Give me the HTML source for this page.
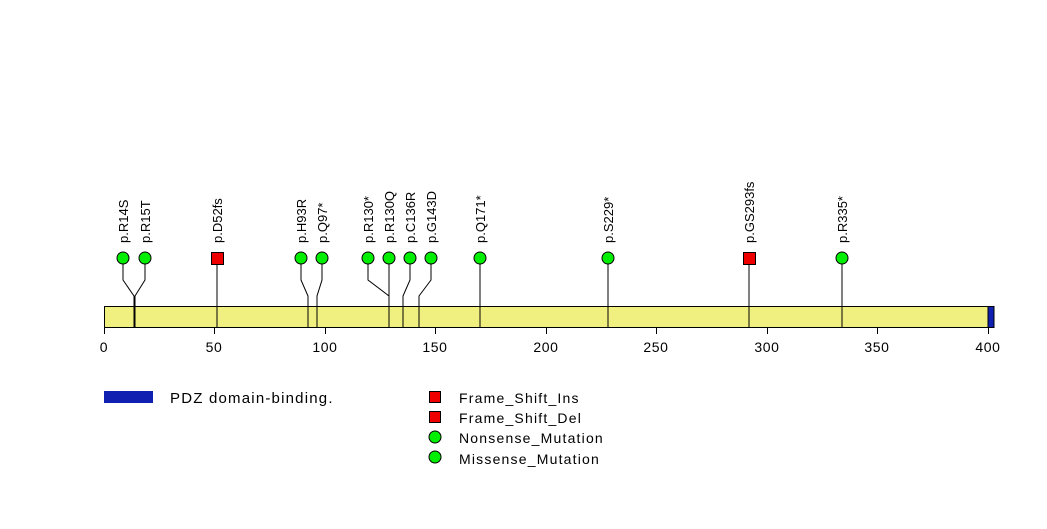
<!DOCTYPE html>
<html><head><meta charset="utf-8"><style>
html,body{margin:0;padding:0;background:#fff}
svg text{font-family:"Liberation Sans",sans-serif;font-size:14px;fill:#000}
.lg{font-size:15px;letter-spacing:1.2px}
.lb{letter-spacing:0.6px}
.rl text{font-size:13px}
</style></head><body>
<svg width="1047" height="524" xmlns="http://www.w3.org/2000/svg">
<g stroke="#000" stroke-width="1" fill="none">
<polyline points="123,264 123,280 134,296 134,306"/>
<polyline points="145,264 145,280 135,296 135,306"/>
<polyline points="217,264 217,306"/>
<polyline points="301,264 301,280 308,296 308,306"/>
<polyline points="322,264 322,280 317,296 317,306"/>
<polyline points="368,264 368,280 389,296 389,306"/>
<polyline points="389,264 389,306"/>
<polyline points="410,264 410,280 403,296 403,306"/>
<polyline points="431,264 431,280 419,296 419,306"/>
<polyline points="480,264 480,306"/>
<polyline points="608,264 608,306"/>
<polyline points="749,264 749,306"/>
<polyline points="842,264 842,306"/>
</g>
<rect x="104.5" y="306.5" width="889" height="21" fill="#f0f080" stroke="#000"/>
<rect x="988" y="306.5" width="6" height="21" fill="#1020b0" stroke="#000"/>
<g stroke="#000" fill="none">
<line x1="134" y1="306" x2="134" y2="327"/><line x1="135" y1="306" x2="135" y2="327"/>
<line x1="217" y1="306" x2="217" y2="327"/><line x1="308" y1="306" x2="308" y2="327"/>
<line x1="317" y1="306" x2="317" y2="327"/><line x1="389" y1="306" x2="389" y2="327"/>
<line x1="403" y1="306" x2="403" y2="327"/><line x1="419" y1="306" x2="419" y2="327"/>
<line x1="480" y1="306" x2="480" y2="327"/><line x1="608" y1="306" x2="608" y2="327"/>
<line x1="749" y1="306" x2="749" y2="327"/><line x1="842" y1="306" x2="842" y2="327"/>
</g>
<g stroke="#000">
<line x1="104.5" y1="327" x2="104.5" y2="334"/><line x1="214.5" y1="327" x2="214.5" y2="334"/>
<line x1="325.5" y1="327" x2="325.5" y2="334"/><line x1="435.5" y1="327" x2="435.5" y2="334"/>
<line x1="546.5" y1="327" x2="546.5" y2="334"/><line x1="656.5" y1="327" x2="656.5" y2="334"/>
<line x1="767.5" y1="327" x2="767.5" y2="334"/><line x1="877.5" y1="327" x2="877.5" y2="334"/>
<line x1="988.5" y1="327" x2="988.5" y2="334"/>
</g>
<g text-anchor="middle" class="lb">
<text x="104" y="352">0</text><text x="214" y="352">50</text><text x="325" y="352">100</text>
<text x="435" y="352">150</text><text x="546" y="352">200</text><text x="656" y="352">250</text>
<text x="767" y="352">300</text><text x="877" y="352">350</text><text x="988" y="352">400</text>
</g>
<g fill="#00ee00" stroke="#000">
<circle cx="123" cy="258" r="6"/><circle cx="145" cy="258" r="6"/>
<circle cx="301" cy="258" r="6"/><circle cx="322" cy="258" r="6"/>
<circle cx="368" cy="258" r="6"/><circle cx="389" cy="258" r="6"/>
<circle cx="410" cy="258" r="6"/><circle cx="431" cy="258" r="6"/>
<circle cx="480" cy="258" r="6"/><circle cx="608" cy="258" r="6"/>
<circle cx="842" cy="258" r="6"/>
</g>
<g fill="#ee0000" stroke="#000">
<rect x="211.5" y="252.5" width="12" height="12"/>
<rect x="743.5" y="252.5" width="12" height="12"/>
</g>
<g class="rl">
<text transform="translate(128,243) rotate(-90)">p.R14S</text>
<text transform="translate(150,243) rotate(-90)">p.R15T</text>
<text transform="translate(222,243) rotate(-90)">p.D52fs</text>
<text transform="translate(306,243) rotate(-90)">p.H93R</text>
<text transform="translate(327,243) rotate(-90)">p.Q97*</text>
<text transform="translate(373,243) rotate(-90)">p.R130*</text>
<text transform="translate(394,243) rotate(-90)">p.R130Q</text>
<text transform="translate(415,243) rotate(-90)">p.C136R</text>
<text transform="translate(436,243) rotate(-90)">p.G143D</text>
<text transform="translate(485,243) rotate(-90)">p.Q171*</text>
<text transform="translate(613,243) rotate(-90)">p.S229*</text>
<text transform="translate(754,243) rotate(-90)">p.GS293fs</text>
<text transform="translate(847,243) rotate(-90)">p.R335*</text>
</g>
<rect x="104" y="391" width="49" height="12" fill="#1020b0"/>
<text x="170" y="403" class="lg">PDZ domain-binding.</text>
<rect x="429.5" y="391.5" width="11" height="11" fill="#ee0000" stroke="#000"/>
<rect x="429.5" y="411.5" width="11" height="11" fill="#ee0000" stroke="#000"/>
<circle cx="435" cy="437" r="6" fill="#00ee00" stroke="#000"/>
<circle cx="435" cy="457" r="6" fill="#00ee00" stroke="#000"/>
<g class="lg">
<text x="459" y="403">Frame_Shift_Ins</text>
<text x="459" y="423">Frame_Shift_Del</text>
<text x="459" y="443">Nonsense_Mutation</text>
<text x="459" y="464">Missense_Mutation</text>
</g>
</svg>
</body></html>
